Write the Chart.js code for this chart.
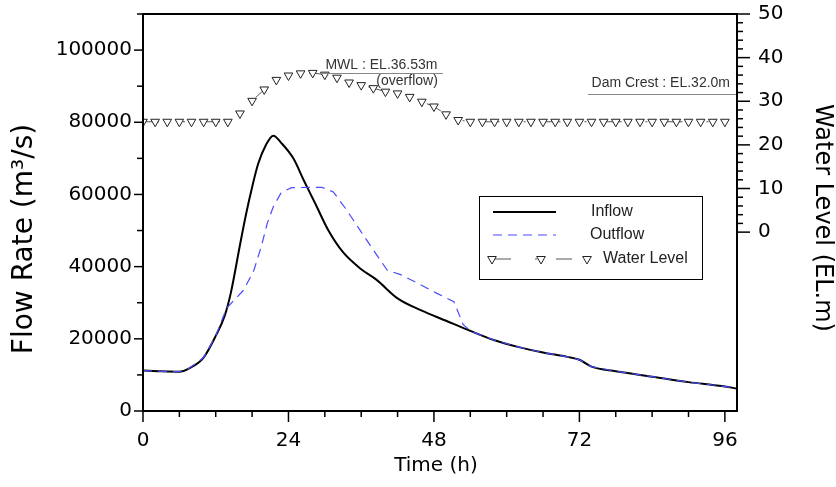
<!DOCTYPE html>
<html>
<head>
<meta charset="utf-8">
<script src="https://cdn.jsdelivr.net/npm/chart.js@4/dist/chart.umd.min.js"></script>
<style>
html, body { margin: 0; padding: 0; background: #fff; }
</style>
</head>
<body>
<canvas id="flood-chart" width="836" height="487"></canvas>
<script>
// flood routing hydrograph: inflow / outflow (left axis) and reservoir level (right axis)
const inflowHours = [0, 3, 6, 7.5, 10, 12, 13.5, 14.5, 16, 17, 18, 19, 20.3, 21.5, 22.8, 24.8, 26.5, 28.5, 30.5, 33,
    36, 38.5, 42, 46, 50, 54, 58, 62, 66, 70, 72, 74, 78, 84, 90, 94, 96, 98];
const inflowValues = [11200, 11000, 10900, 11700, 14800, 20800, 26500, 32800, 46000, 54500, 62000, 68500, 73800, 76300, 74300, 70000, 64000, 57200, 50300, 44000,
    39300, 36400, 31200, 27800, 25000, 22200, 19600, 17700, 16200, 15000, 14200, 12300, 11000, 9500, 8000, 7200, 6800, 6200];

const outflowHours = [0, 3, 6, 7.5, 10, 12, 13.8, 16.6, 18.3, 19.5, 20.5, 21.5, 22.8, 24.5, 29.5, 31.4, 33.6, 35.8, 38, 40.3,
    42.5, 45.2, 48.5, 51.3, 52.8, 54, 58, 62, 66, 70, 72, 74, 78, 84, 90, 94, 96, 98];
const outflowValues = [11200, 11000, 10900, 11700, 14800, 20800, 28500, 33500, 39000, 45500, 52000, 56600, 60500, 61900, 62000, 60700, 55700, 50100, 44600, 39000,
    37800, 35500, 32600, 30300, 24000, 22200, 19600, 17700, 16200, 15000, 14200, 12300, 11000, 9500, 8000, 7200, 6800, 6200];

const levelHours = [0, 2, 4, 6, 8, 10, 12, 14, 16, 18, 20, 22, 24, 26, 28, 30, 32, 34, 36, 38, 40, 42, 44, 46, 48,
    50, 52, 54, 56, 58, 60, 62, 64, 66, 68, 70, 72, 74, 76, 78, 80, 82, 84, 86, 88, 90, 92, 94, 96];
const levelValues = [25.3, 25.3, 25.3, 25.3, 25.3, 25.3, 25.3, 25.3, 27.2, 30.1, 32.7, 34.9, 35.9, 36.4, 36.5, 36.1, 35.4, 34.3, 33.7, 33.0, 32.2, 31.8, 31.0, 29.9, 28.8,
    27.0, 25.7, 25.3, 25.3, 25.3, 25.3, 25.3, 25.3, 25.3, 25.3, 25.3, 25.3, 25.3, 25.3, 25.3, 25.3, 25.3, 25.3, 25.3, 25.3, 25.3, 25.3, 25.3, 25.3];

const seriesNames = ['Inflow', 'Outflow', 'Water Level'];
const flowTicks = [0, 20000, 40000, 60000, 80000, 100000];
const levelTicks = [0, 10, 20, 30, 40, 50];
const timeTicks = [0, 24, 48, 72, 96];

const MWL = 36.53;
const DAM_CREST = 32.0;

const pairs = (xs, ys) => xs.map((x, i) => ({ x: x, y: ys[i] }));

const levelDash = [16, 24, 2, 19];

// frame, minor/major ticks, annotations, titles and the boxed legend
const decorations = {
    id: 'decorations',
    afterDraw(chart) {
        const { ctx, chartArea: a, scales } = chart;
        const xS = scales.x, yL = scales.yL, yR = scales.yR;
        ctx.save();

        // annotation lines + text
        ctx.strokeStyle = '#888';
        ctx.lineWidth = 1;
        let y = Math.round(yR.getPixelForValue(MWL)) + 0.5;
        ctx.beginPath();
        ctx.moveTo(xS.getPixelForValue(29.2), y);
        ctx.lineTo(xS.getPixelForValue(49.5), y);
        ctx.stroke();
        ctx.fillStyle = '#333';
        ctx.font = '14px "Liberation Sans", Arial, sans-serif';
        ctx.textBaseline = 'alphabetic';
        ctx.textAlign = 'left';
        ctx.fillText('MWL : EL.' + MWL.toFixed(2) + 'm', xS.getPixelForValue(30.1), y - 5);
        ctx.fillText('(overflow)', xS.getPixelForValue(38.5), y + 11);

        y = Math.round(yR.getPixelForValue(DAM_CREST)) + 1.5;
        ctx.beginPath();
        ctx.moveTo(xS.getPixelForValue(73.4), y);
        ctx.lineTo(a.right, y);
        ctx.stroke();
        ctx.fillText('Dam Crest : EL.' + DAM_CREST.toFixed(1) + 'm', xS.getPixelForValue(74.0), y - 8);

        // frame
        ctx.strokeStyle = '#000';
        ctx.lineWidth = 2;
        ctx.strokeRect(a.left, a.top, a.right - a.left, a.bottom - a.top);

        ctx.lineWidth = 1.5;
        const tick = (x1, y1, x2, y2) => {
            ctx.beginPath();
            ctx.moveTo(x1, y1);
            ctx.lineTo(x2, y2);
            ctx.stroke();
        };
        for (let v = 0; v <= 110000; v += 10000) {
            const py = yL.getPixelForValue(v);
            tick(a.left, py, a.left - (v % 20000 === 0 ? 9 : 6), py);
        }
        for (let v = 0; v <= 50; v += 2) {
            const py = yR.getPixelForValue(v);
            tick(a.right, py, a.right + (v % 10 === 0 ? 13 : 6), py);
        }
        for (let v = 0; v <= 96; v += 6) {
            const px = xS.getPixelForValue(v);
            tick(px, a.bottom, px, a.bottom + (v % 24 === 0 ? 11 : 6));
        }

        // axis titles
        ctx.fillStyle = '#000';
        ctx.textAlign = 'center';
        ctx.textBaseline = 'middle';
        ctx.font = '28px "DejaVu Sans", sans-serif';
        ctx.save();
        ctx.translate(25, 239);
        ctx.rotate(-Math.PI / 2);
        ctx.fillText('Flow Rate (m³/s)', 0, 0);
        ctx.restore();
        ctx.font = '24px "DejaVu Sans", sans-serif';
        ctx.save();
        ctx.translate(822, 218);
        ctx.rotate(Math.PI / 2);
        ctx.fillText('Water Level (EL.m)', 0, 0);
        ctx.restore();
        ctx.font = '20px "DejaVu Sans", sans-serif';
        ctx.fillText('Time (h)', 436, 466);

        // legend box
        const lx = 479.5, ly = 196.5, lw = 223, lh = 83;
        ctx.fillStyle = '#fff';
        ctx.fillRect(lx, ly, lw, lh);
        ctx.strokeStyle = '#000';
        ctx.lineWidth = 1;
        ctx.strokeRect(lx, ly, lw, lh);
        const ds = chart.data.datasets;
        const rows = [212, 235, 259];

        ctx.lineWidth = ds[0].borderWidth;
        ctx.strokeStyle = ds[0].borderColor;
        ctx.setLineDash([]);
        tick(493, rows[0], 556, rows[0]);

        ctx.lineWidth = ds[1].borderWidth;
        ctx.strokeStyle = ds[1].borderColor;
        ctx.setLineDash(ds[1].borderDash);
        tick(493, rows[1], 556, rows[1]);

        ctx.lineWidth = ds[2].borderWidth;
        ctx.strokeStyle = ds[2].borderColor;
        ctx.setLineDash(levelDash);
        tick(495, rows[2], 590, rows[2]);
        ctx.setLineDash([]);
        [492, 541, 587].forEach(px => {
            const r = ds[2].pointRadius;
            ctx.beginPath();
            ctx.moveTo(px - r * 0.866, rows[2] - r / 2);
            ctx.lineTo(px + r * 0.866, rows[2] - r / 2);
            ctx.lineTo(px, rows[2] + r);
            ctx.closePath();
            ctx.fillStyle = '#fff';
            ctx.fill();
            ctx.strokeStyle = ds[2].pointBorderColor;
            ctx.stroke();
        });

        ctx.fillStyle = '#222';
        ctx.font = '16px "Liberation Sans", Arial, sans-serif';
        ctx.textAlign = 'left';
        ctx.fillText(seriesNames[0], 591, rows[0]);
        ctx.fillText(seriesNames[1], 590, rows[1]);
        ctx.fillText(seriesNames[2], 603, rows[2]);

        ctx.restore();
    }
};

const tickFont = { family: '"DejaVu Sans", sans-serif', size: 20 };
const noPad = s => { s.paddingTop = 0; s.paddingBottom = 0; s.paddingLeft = 0; s.paddingRight = 0; };
const plainLabel = v => String(v);

const ctx = document.getElementById('flood-chart').getContext('2d');
const floodChart = new Chart(ctx, {
    type: 'line',
    data: {
        datasets: [
            {
                label: seriesNames[0],
                data: pairs(inflowHours, inflowValues),
                yAxisID: 'yL',
                borderColor: '#000',
                borderWidth: 2,
                pointRadius: 0,
                cubicInterpolationMode: 'monotone',
                order: 1
            },
            {
                label: seriesNames[1],
                data: pairs(outflowHours, outflowValues),
                yAxisID: 'yL',
                borderColor: '#4a4aff',
                borderWidth: 1.2,
                borderDash: [9, 6],
                pointRadius: 0,
                tension: 0,
                order: 0
            },
            {
                label: seriesNames[2],
                data: pairs(levelHours, levelValues),
                yAxisID: 'yR',
                borderColor: '#555',
                borderWidth: 1,
                borderDash: levelDash,
                pointStyle: 'triangle',
                rotation: 180,
                pointRadius: 5,
                pointBackgroundColor: '#fff',
                pointBorderColor: '#222',
                pointBorderWidth: 1,
                tension: 0,
                order: 2
            }
        ]
    },
    options: {
        responsive: false,
        animation: false,
        devicePixelRatio: 1,
        layout: { padding: { top: 14, left: 0, right: 0, bottom: 0 } },
        plugins: {
            legend: { display: false },
            tooltip: { enabled: false }
        },
        scales: {
            x: {
                type: 'linear',
                min: 0,
                max: 98,
                grid: { display: false, drawTicks: false },
                border: { display: false },
                ticks: {
                    autoSkip: false,
                    maxRotation: 0,
                    padding: 18,
                    color: '#000',
                    font: tickFont,
                    callback: plainLabel
                },
                afterBuildTicks: s => { s.ticks = timeTicks.map(v => ({ value: v })); },
                afterFit: s => { s.height = 76; noPad(s); }
            },
            yL: {
                position: 'left',
                min: 0,
                max: 110000,
                grid: { display: false, drawTicks: false },
                border: { display: false },
                ticks: {
                    autoSkip: false,
                    padding: 11,
                    color: '#000',
                    font: tickFont,
                    callback: plainLabel
                },
                afterBuildTicks: s => { s.ticks = flowTicks.map(v => ({ value: v })); },
                afterFit: s => { s.width = 143; noPad(s); }
            },
            yR: {
                position: 'right',
                min: -41,
                max: 50,
                grid: { display: false, drawTicks: false },
                border: { display: false },
                ticks: {
                    autoSkip: false,
                    padding: 21,
                    color: '#000',
                    font: tickFont,
                    callback: plainLabel
                },
                afterBuildTicks: s => { s.ticks = levelTicks.map(v => ({ value: v })); },
                afterFit: s => { s.width = 99; noPad(s); }
            }
        }
    },
    plugins: [decorations]
});
</script>
</body>
</html>
